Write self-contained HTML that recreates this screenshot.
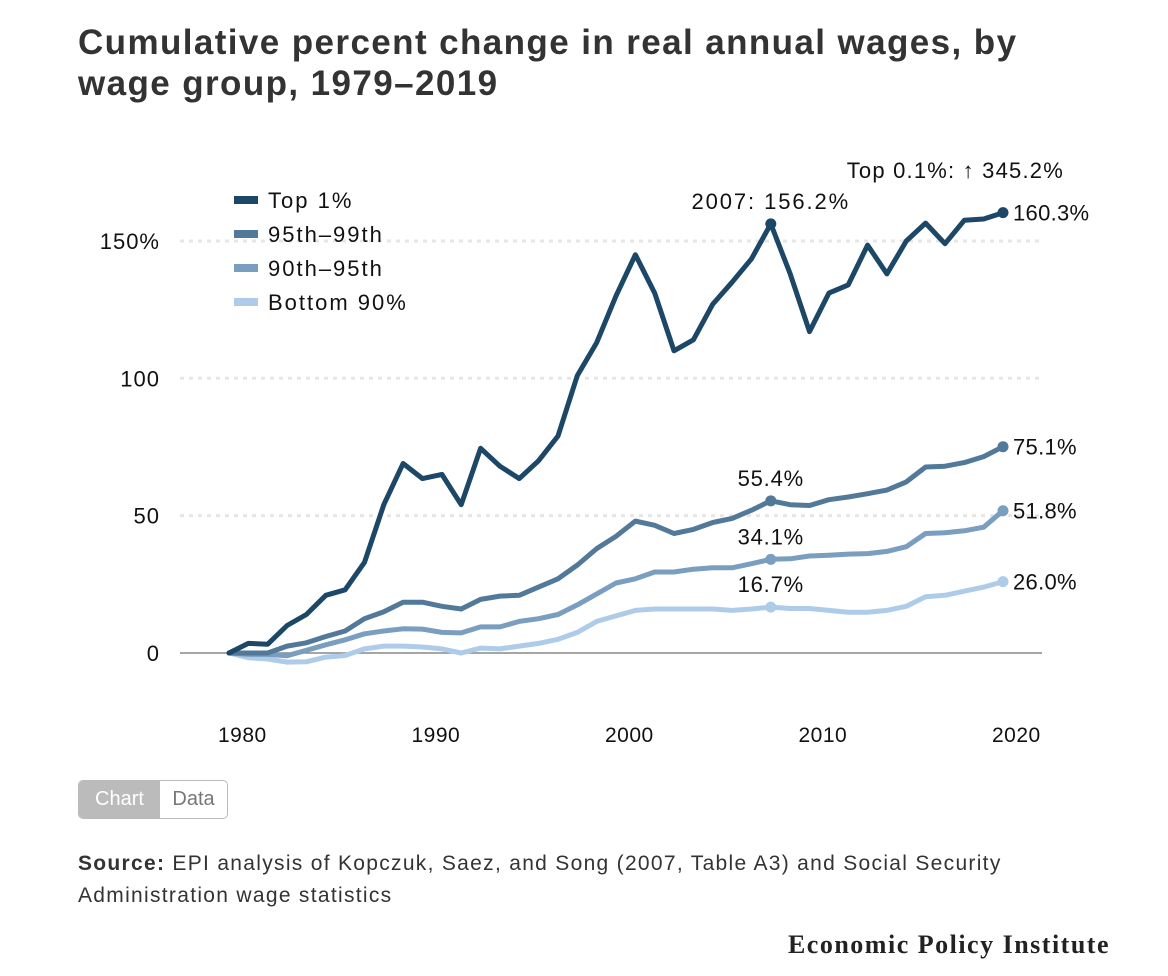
<!DOCTYPE html>
<html><head><meta charset="utf-8"><style>
body{margin:0;width:1168px;height:976px;background:#fff;font-family:"Liberation Sans",sans-serif;color:#222;position:relative;overflow:hidden}
.title{position:absolute;left:78px;top:22px;font-size:35px;font-weight:bold;color:#333;line-height:41px;letter-spacing:1.4px;white-space:nowrap}
.toggle{position:absolute;left:78px;top:780px;width:148px;height:37px;border:1.5px solid #bbb;border-radius:5px;overflow:hidden;display:flex;font-size:20px}
.toggle div{display:flex;align-items:center;justify-content:center}
.src{position:absolute;left:78px;top:848px;font-size:21px;line-height:32px;color:#333;letter-spacing:1.3px;white-space:nowrap}
.logo{position:absolute;right:58px;top:930px;font-family:"Liberation Serif",serif;font-weight:bold;font-size:26px;color:#222;letter-spacing:1.5px}
svg{position:absolute;left:0;top:0}
</style></head><body>
<div class="title">Cumulative percent change in real annual wages, by<br>wage group, 1979–2019</div>
<svg id="chart" width="1168" height="976"></svg>
<div class="toggle">
<div style="width:81px;background:#bbb;color:#fff">Chart</div>
<div style="flex:1;color:#777">Data</div>
</div>
<div class="src"><b>Source:</b> EPI analysis of Kopczuk, Saez, and Song (2007, Table A3) and Social Security<br>Administration wage statistics</div>
<div class="logo">Economic Policy Institute</div>
<script>
const years=[];for(let y=1979;y<=2019;y++)years.push(y);
const top1=[0,3.5,3.2,10,14,21,23,33,54,69,63.5,65,54,74.5,68,63.5,70,79,101,113,130,145,131,110,114,127,135,143.5,156.2,138,117,131,134,148.5,138,150,156.5,149,157.5,158,160.3];
const p95_99=[0,0,0,2.5,3.7,6,8,12.5,15,18.5,18.5,17,16,19.5,20.7,21,24,27,32,38,42.5,48,46.5,43.5,45,47.5,49,52,55.4,54,53.7,55.8,56.8,58,59.3,62.3,67.7,68,69.3,71.5,75.1];
const p90_95=[0,-0.5,-0.5,-1,1,3,4.8,7,8,8.8,8.7,7.5,7.3,9.5,9.5,11.5,12.5,14,17.5,21.5,25.5,27,29.5,29.5,30.5,31,31,32.5,34.1,34.3,35.3,35.6,36,36.2,37,38.7,43.5,43.8,44.5,45.8,51.8];
const bottom90=[0,-1.7,-2.2,-3.3,-3.2,-1.5,-0.9,1.5,2.5,2.5,2.2,1.5,0,1.8,1.5,2.5,3.5,5,7.5,11.5,13.5,15.5,16,16,16,16,15.5,16,16.7,16.2,16.2,15.5,14.8,14.8,15.5,17,20.5,21,22.5,24,26.0];
const yTicks=[0,50,100,150];
const yTickLabels=["0","50","100","150%"];
const xTicks=[1980,1990,2000,2010,2020];
const seriesNames=["Top 1%","95th–99th","90th–95th","Bottom 90%"];
const colors=["#1c4766","#52799a","#7a9ebf","#aecce9"];
const NS="http://www.w3.org/2000/svg";
const svg=document.getElementById('chart');
const X=y=>229+(y-1979)*19.35;
const Y=v=>653-v*2.747;
function mk(t,a,p){const e=document.createElementNS(NS,t);for(const k in a)e.setAttribute(k,a[k]);(p||svg).appendChild(e);return e;}
function txt(x,y,s,anchor,size,ls){const e=mk('text',{x:x,y:y,'text-anchor':anchor||'start','font-size':size||21,fill:'#111','font-family':'Liberation Sans, sans-serif','letter-spacing':ls||0});e.textContent=s;return e;}
yTicks.forEach((v,i)=>{
  if(v!==0){const g=mk('line',{x1:180,x2:1042,y1:Y(v),y2:Y(v),stroke:'#e6e6e6','stroke-width':3,'stroke-dasharray':'4 5'});
  
  }
  const t=txt(160,Y(v)+8,yTickLabels[i],'end',22,1);
  
  
});
const z=mk('line',{x1:180,x2:1042,y1:Y(0),y2:Y(0),stroke:'#888','stroke-width':1.5});


xTicks.forEach(yr=>{const t=txt(X(yr)-6,742,String(yr),'middle',21,0.5);
  
  });
const all=[top1,p95_99,p90_95,bottom90];
const slugs=['top-1','p95-99','p90-95','bottom-90'];
for(let s=3;s>=0;s--){
  const d=all[s].map((v,i)=>(i?'L':'M')+X(years[i]).toFixed(1)+','+Y(v).toFixed(1)).join('');
  const p=mk('path',{d:d,fill:'none',stroke:colors[s],'stroke-width':5,'stroke-linejoin':'round','stroke-linecap':'round'});
  
  
  [28,40].forEach(i=>{const c=mk('circle',{cx:X(years[i]),cy:Y(all[s][i]),r:5.5,fill:colors[s]});
    
    });
  const last=all[s][40];
  const l=txt(X(2019)+10,Y(last)+8,last.toFixed(1)+'%','start',22,0.3);
  
  
  const v7=all[s][28];
  const l2=txt(X(2007),Y(v7)-15,(s===0?'2007: ':'')+v7.toFixed(1)+'%','middle',22,s===0?1.9:0.8);
  
  
}
const tn=txt(1064,178,'Top 0.1%: ↑ 345.2%','end',22,1.2);


seriesNames.forEach((n,i)=>{
  const yy=200+i*34;
  const r=mk('rect',{x:234,y:yy-4,width:24,height:8,fill:colors[i]});
  
  
  const t=txt(268,yy+8,n,'start',22,2);
  
  
});
</script>
</body></html>
